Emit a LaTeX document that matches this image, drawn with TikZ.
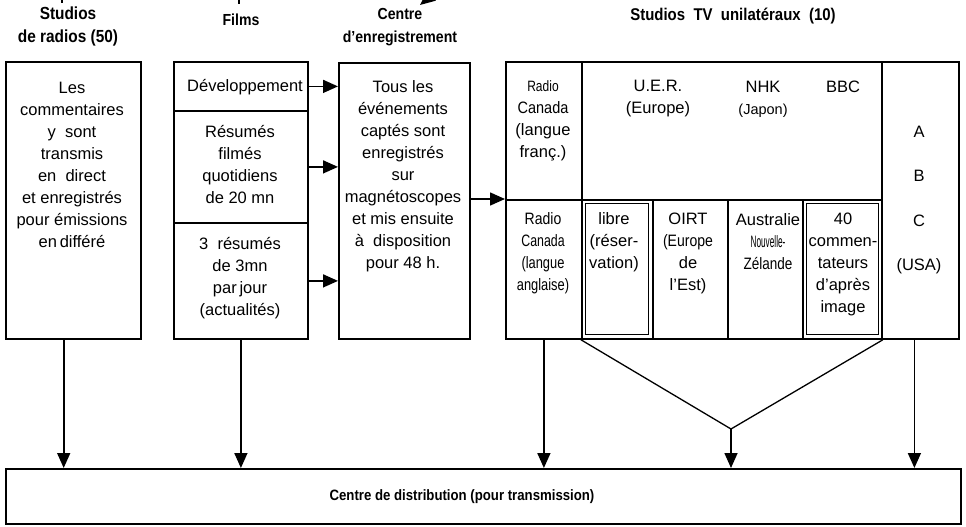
\documentclass[tikz,border=0pt]{standalone}
\usepackage{fontspec}
\setmainfont{Liberation Sans}
\usetikzlibrary{arrows.meta}
\newcommand{\squeeze}[2]{\scalebox{#1}[1]{#2}}

\begin{document}
\begin{tikzpicture}[
    x=1pt, y=-1pt,
    box/.style={
        draw,
        line width=2.4pt,
        inner sep=0pt,
        anchor=north west
    },
    cell/.style={
        draw,
        line width=1.8pt,
        inner sep=0pt,
        anchor=north west
    },
    frame/.style={
        draw,
        line width=0.8pt,
        inner sep=0pt,
        anchor=north west
    },
    arrow/.style={
        -{Triangle[length=15pt,width=13pt]},
        line width=1.6pt
    },
    head/.style={
        font=\bfseries\fontsize{16}{23}\selectfont,
        align=center
    },
    body/.style={
        font=\fontsize{16.5}{22}\selectfont,
        align=center,
        inner sep=0pt
    }
]
    \useasboundingbox (0,0) rectangle (966,527);

    % headers
    \node[head, font=\bfseries\fontsize{17.5}{23}\selectfont] (radioshead) at (68,26) {\squeeze{0.88}{Studios}\\\squeeze{0.88}{de radios (50)}};
    \node[head] (filmshead) at (241,20) {\squeeze{0.88}{Films}};
    \node[head] (centrehead) at (400,27) {\squeeze{0.88}{Centre}\\\squeeze{0.88}{d’enregistrement}};
    \node[head, font=\bfseries\fontsize{17}{23}\selectfont] (tvhead) at (733,16) {\squeeze{0.88}{Studios\ \ TV\ \ unilatéraux\ \ (10)}};

    % cut-off marks at the top edge
    \coordinate (cutA) at (62,-20);
    \coordinate (endA) at (62,3);
    \coordinate (cutB) at (239,-20);
    \coordinate (endB) at (239,4);
    \coordinate (cutC) at (448,-18);
    \coordinate (tipC) at (420,5);
    \draw[line width=1.6pt] (cutA) -- (endA);
    \draw[line width=1.6pt] (cutB) -- (endB);
    \draw[arrow] (cutC) -- (tipC);

    % film cells
    \node[cell, minimum width=134pt, minimum height=49pt] (dev) at (173,61) {};
    \node[cell, minimum width=134pt, minimum height=112pt] (resum) at (173,110) {};
    \node[cell, minimum width=134pt, minimum height=116pt] (actu) at (173,222) {};

    % TV cells
    \node[cell, minimum width=76pt, minimum height=138pt] (rcfr) at (505,61) {};
    \node[cell, minimum width=300pt, minimum height=138pt] (uer) at (581,61) {};
    \node[cell, minimum width=77pt, minimum height=277pt] (abc) at (881,61) {};
    \node[cell, minimum width=76pt, minimum height=139pt] (rcen) at (505,199) {};
    \node[cell, minimum width=71pt, minimum height=139pt] (libre) at (581,199) {};
    \node[cell, minimum width=75pt, minimum height=139pt] (oirt) at (652,199) {};
    \node[cell, minimum width=75pt, minimum height=139pt] (austr) at (727,199) {};
    \node[cell, minimum width=79pt, minimum height=139pt] (comm) at (802,199) {};
    \node[frame, minimum width=63pt, minimum height=131pt] (librein) at (585,203) {};
    \node[frame, minimum width=72pt, minimum height=131pt] (commin) at (806,203) {};

    % outer boxes
    \node[box, minimum width=135pt, minimum height=277pt] (radios) at (5,61) {};
    \node[box, minimum width=134pt, minimum height=277pt] (films) at (173,61) {};
    \node[box, minimum width=131pt, minimum height=276pt] (centre) at (338,62) {};
    \node[box, minimum width=453pt, minimum height=277pt] (tv) at (505,61) {};
    \node[box, minimum width=955pt, minimum height=55pt] (distrib) at (5,468) {};

    % texts
    \node[body] (radiostxt) at (72,165) {Les\\commentaires\\y\ \ sont\\transmis\\en\ \ direct\\et enregistrés\\pour émissions\\en\,différé};
    \node[body] (devtxt) at (245,87) {Développement};
    \node[body] (resumtxt) at (240,165) {Résumés\\filmés\\quotidiens\\de 20 mn};
    \node[body] (actutxt) at (240,278) {3\ \ résumés\\de 3mn\\par\,jour\\(actualités)};
    \node[body] (centretxt) at (403,176) {Tous les\\événements\\captés sont\\enregistrés\\sur\\magnétoscopes\\et mis ensuite\\à\ \ disposition\\pour 48 h.};
    \node[body] (rcfrtxt) at (543,121) {{\fontsize{15}{22}\selectfont\squeeze{0.8}{Radio}}\\\squeeze{0.88}{Canada}\\(langue\\franç.)};
    \node[body] (uertxt) at (658,99) {U.E.R.\\(Europe)};
    \node[body] (nhktxt) at (763,99) {NHK\\{\fontsize{14.5}{22}\selectfont(Japon)}};
    \node[body] (bbctxt) at (843,87) {BBC};
    \node[body, font=\fontsize{16.5}{44.5}\selectfont] (abctxt) at (919,200) {A\\B\\C\\(USA)};
    \node[body] (rcentxt) at (543,253) {\squeeze{0.85}{Radio}\\\squeeze{0.75}{Canada}\\\squeeze{0.78}{(langue}\\\squeeze{0.78}{anglaise)}};
    \node[body] (libretxt) at (614,242) {libre\\(réser-\\vation)};
    \node[body] (oirttxt) at (688,253) {OIRT\\\squeeze{0.85}{(Europe}\\de\\l’Est)};
    \node[body] (austrtxt) at (768,242) {Australie\\\squeeze{0.5}{Nouvelle-}\\\squeeze{0.82}{Zélande}};
    \node[body] (commtxt) at (843,264) {40\\commen-\\tateurs\\d’après\\image};
    \node[head, font=\bfseries\fontsize{15}{23}\selectfont] (distribtxt) at (462,497) {\squeeze{0.88}{Centre de distribution (pour transmission)}};

    % connectors
    \draw[arrow] (dev.east) -- (dev.east -| centre.west);
    \draw[arrow] (resum.east) -- (resum.east -| centre.west);
    \draw[arrow] (actu.east) -- (actu.east -| centre.west);
    \draw[arrow] (centre.east |- rcen.north west) -- (rcen.north west);

    \draw[arrow] ([xshift=-10pt]radios.south) -- ([xshift=-10pt]radios.south |- distrib.north);
    \draw[arrow] (actu.south) -- (actu.south |- distrib.north);
    \draw[arrow] (rcen.south) -- (rcen.south |- distrib.north);
    \coordinate (apex) at (731,429);
    \draw[line width=1.3pt] (libre.south west) -- (apex) -- (comm.south east);
    \draw[arrow] (apex) -- (apex |- distrib.north);
    \draw[arrow] ([xshift=-6pt]abc.south) -- ([xshift=-6pt]abc.south |- distrib.north);
\end{tikzpicture}
\end{document}
